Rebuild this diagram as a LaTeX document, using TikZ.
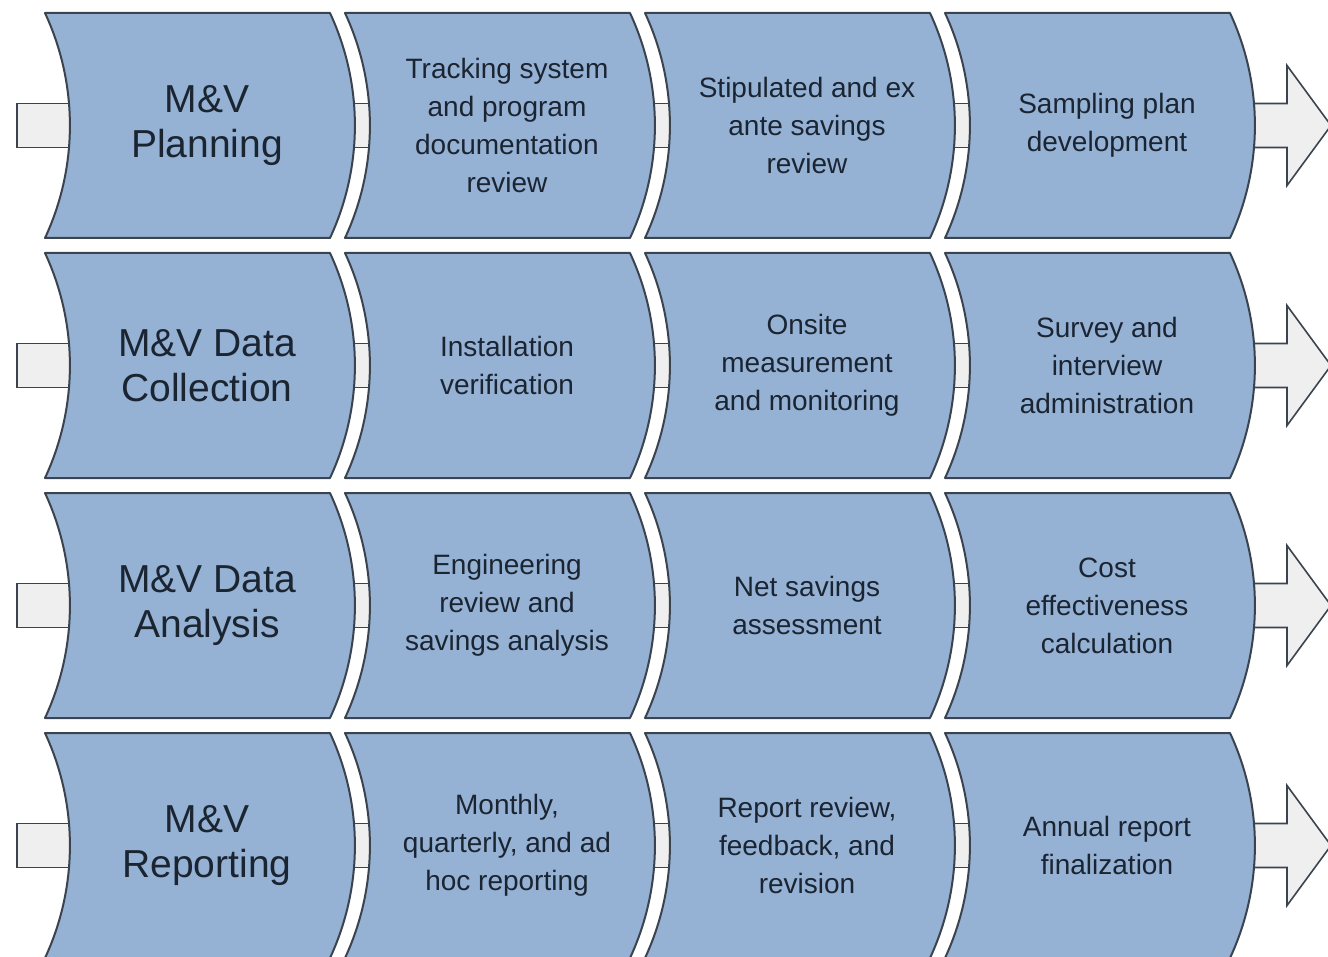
\documentclass[tikz,border=0pt]{standalone}
\usepackage{fontspec}
\setmainfont{Liberation Sans}
\usetikzlibrary{calc}
\definecolor{stagefill}{HTML}{95B1D4}
\definecolor{stageline}{HTML}{3A434E}
\definecolor{linkfill}{HTML}{EFEFEF}
\definecolor{inktext}{HTML}{1B2532}
\tikzset{
  stagebox/.style={fill=stagefill, draw=stageline, line width=2pt, line join=round},
  link/.style={fill=linkfill, draw=stageline, line width=1.6pt, line join=miter},
  headtext/.style={align=center, text=inktext, font=\fontsize{39}{45}\selectfont, inner sep=0pt},
  steptext/.style={align=center, text=inktext, font=\fontsize{28}{38}\selectfont, inner sep=0pt}
}
\begin{document}
\begin{tikzpicture}[x=1pt,y=-1pt]
\useasboundingbox (0,0) rectangle (1328,957);
\fill[white] (0,0) rectangle (1328,957);

% centre of every stage: row r, column c
\foreach \r in {0,...,3}{
  \foreach \c in {0,...,3}{
    \coordinate (p\r\c) at ({207+300*\c},{125.5+240*\r});
  }
}

% feeds, links and exit arrows (drawn below the stages)
\foreach \r in {0,...,3}{
  \draw[link] ($(p\r0)+(-190,-22)$) rectangle ($(p\r0)+(-110,22)$);
  \draw[link] ($(p\r0)+(120,-22)$) rectangle ($(p\r1)+(-110,22)$);
  \draw[link] ($(p\r1)+(120,-22)$) rectangle ($(p\r2)+(-110,22)$);
  \draw[link] ($(p\r2)+(120,-22)$) rectangle ($(p\r3)+(-110,22)$);
  \draw[link] ($(p\r3)+(120,-22)$) -- ($(p\r3)+(180,-22)$) -- ($(p\r3)+(180,-60)$)
     -- ($(p\r3)+(224,0)$) -- ($(p\r3)+(180,60)$) -- ($(p\r3)+(180,22)$)
     -- ($(p\r3)+(120,22)$) -- cycle;
}

% the curved stages
\foreach \r in {0,...,3}{
  \foreach \c in {0,...,3}{
    \pgfmathsetmacro{\L}{45+300*\c}
    \pgfmathsetmacro{\R}{\L+285}
    \pgfmathsetmacro{\T}{13+240*\r}
    \pgfmathsetmacro{\B}{\T+225}
    \draw[stagebox] (\L,\T) -- (\R,\T)
      .. controls ({\R+33.2},{\T+71.3}) and ({\R+33.2},{\B-71.3}) .. (\R,\B)
      -- (\L,\B)
      .. controls ({\L+33.2},{\B-71.3}) and ({\L+33.2},{\T+71.3}) .. (\L,\T)
      -- cycle;
  }
}

% labels
\node[headtext] (s00) at (p00) {M\&V\\Planning};
\node[steptext] (s01) at (p01) {Tracking system\\and program\\documentation\\review};
\node[steptext] (s02) at (p02) {Stipulated and ex\\ante savings\\review};
\node[steptext] (s03) at (p03) {Sampling plan\\development};

\node[headtext] (s10) at (p10) {M\&V Data\\Collection};
\node[steptext] (s11) at (p11) {Installation\\verification};
\node[steptext] (s12) at (p12) {Onsite\\measurement\\and monitoring};
\node[steptext] (s13) at (p13) {Survey and\\interview\\administration};

\node[headtext] (s20) at (p20) {M\&V Data\\Analysis};
\node[steptext] (s21) at (p21) {Engineering\\review and\\savings analysis};
\node[steptext] (s22) at (p22) {Net savings\\assessment};
\node[steptext] (s23) at (p23) {Cost\\effectiveness\\calculation};

\node[headtext] (s30) at (p30) {M\&V\\Reporting};
\node[steptext] (s31) at (p31) {Monthly,\\quarterly, and ad\\hoc reporting};
\node[steptext] (s32) at (p32) {Report review,\\feedback, and\\revision};
\node[steptext] (s33) at (p33) {Annual report\\finalization};
\end{tikzpicture}
\end{document}
